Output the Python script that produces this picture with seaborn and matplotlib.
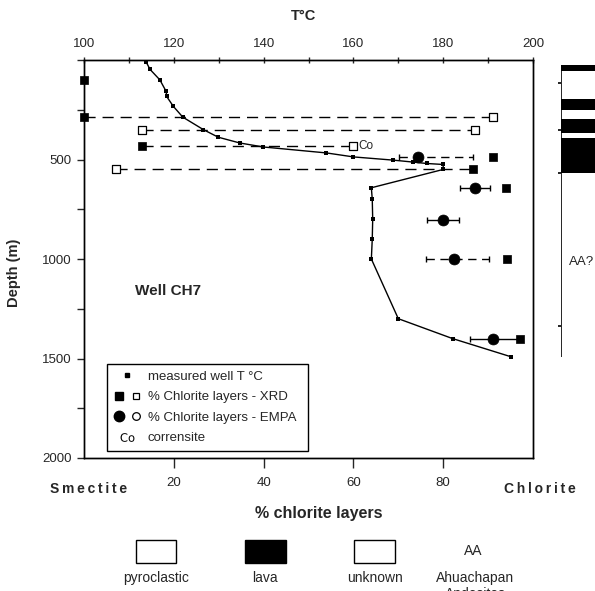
import matplotlib.pyplot as plt
import seaborn as sns
import numpy as np
from matplotlib.lines import Line2D
from matplotlib.legend_handler import HandlerTuple

# measured well temperature profile (T in degC vs depth in m)
temp_c = [113.8, 114.7, 116.9, 118.3, 118.4, 119.9, 122.0, 126.6, 129.9, 134.7, 139.9,
          154.0, 160.0, 168.8, 173.3, 176.3, 180.0, 180.0, 164.0, 164.2, 164.3, 164.2,
          164.0, 170.0, 182.1, 195.2]
temp_depth = [8, 47, 100, 158, 183, 233, 287, 350, 388, 417, 437,
              467, 487, 503, 513, 520, 525, 550, 642, 700, 800, 900,
              1000, 1300, 1400, 1492]

# % chlorite layers - XRD (filled / open squares)
xrd_fill_pct = [0, 0, 13, 91, 86.7, 94, 94.1, 97]
xrd_fill_depth = [100, 285, 433, 488, 550, 642, 1000, 1403]
xrd_open_pct = [91, 13, 87, 60, 7.1]
xrd_open_depth = [285, 353, 353, 433, 550]

# dashed tie lines between paired XRD samples
tie_depth = [285, 353, 433, 550]
tie_from = [0, 13, 13, 7.1]
tie_to = [91, 87, 60, 86.7]

# % chlorite layers - EMPA (mean and range)
empa_pct = [74.3, 87, 79.9, 82.5, 91.2]
empa_depth = [488, 642, 803, 1000, 1403]
empa_lo = [70.2, 83.7, 76.3, 76.1, 86]
empa_hi = [86.7, 90.4, 83.6, 90.1, 97.5]
empa_dashed = [True, False, False, True, False]

# lithology column
lava_top = [25, 197, 297, 392]
lava_bottom = [53, 250, 367, 567]
strip_top, strip_bottom = 25, 1490
strip_ticks = [115, 350, 567, 1335]

# lithology key
key_names = ['pyroclastic', 'lava', 'unknown', 'Ahuachapan\nAndesites']
key_fill = ['white', 'black', 'white', None]

sns.set_style('ticks')
plt.rcParams['font.family'] = ['Liberation Sans', 'DejaVu Sans']

fig = plt.figure(figsize=(5.95, 5.91), dpi=100)
ax = fig.add_axes([84 / 595, 1 - 458 / 591, 449 / 595, 398 / 591])
ax2 = ax.twiny()

# temperature profile on the top axis
sns.lineplot(x=temp_c, y=temp_depth, sort=False, estimator=None, color='black',
             lw=1, marker='s', markersize=2.6, markeredgewidth=0, ax=ax2)

ax.hlines(tie_depth, tie_from, tie_to, colors='black', linestyles=(0, (8, 5)), lw=1, zorder=2)

for x, d, lo, hi, dashed in zip(empa_pct, empa_depth, empa_lo, empa_hi, empa_dashed):
    eb = ax.errorbar(x, d, xerr=[[x - lo], [hi - x]], fmt='none', ecolor='black',
                     elinewidth=1, capsize=2.5, capthick=1, zorder=2)
    if dashed:
        eb[2][0].set_linestyle((0, (6, 4)))

sns.scatterplot(x=xrd_fill_pct, y=xrd_fill_depth, marker='s', s=32, color='black',
                edgecolor='black', linewidth=0.5, ax=ax, zorder=4, clip_on=False)
sns.scatterplot(x=xrd_open_pct, y=xrd_open_depth, marker='s', s=26, color='white',
                edgecolor='black', linewidth=0.9, ax=ax, zorder=4, clip_on=False)
sns.scatterplot(x=empa_pct, y=empa_depth, marker='o', s=62, color='black',
                edgecolor='black', linewidth=0.5, ax=ax, zorder=4)

ax.text(xrd_open_pct[3] + 1.1, xrd_open_depth[3], 'Co', fontsize=8.5, ha='left', va='center')
ax.text(11.4, 1160, 'Well CH7', fontsize=11, fontweight='bold', ha='left', va='center')

ax.set_xlim(0, 100)
ax2.set_xlim(100, 200)
ax.set_ylim(2000, 0)

ax.set_xticks([20, 40, 60, 80])
ax.set_yticks([0, 500, 1000, 1500, 2000])
ax.set_yticklabels(['', '500', '1000', '1500', '2000'])
ax.set_yticks([250, 750, 1250, 1750], minor=True)
ax.tick_params(axis='x', direction='out', length=7, width=1, pad=7, labelsize=9.5, top=False)
ax.tick_params(axis='y', which='both', direction='out', length=5, width=1, pad=4,
               labelsize=9.5, right=False)
ax2.set_xticks(np.arange(100, 201, 20))
ax2.set_xticks(np.arange(110, 200, 20), minor=True)
ax2.tick_params(axis='x', which='both', direction='inout', length=5, width=1, pad=5, labelsize=9.5)
for a in (ax, ax2):
    for sp in a.spines.values():
        sp.set_visible(True)
        sp.set_linewidth(1)
        sp.set_color('black')

ax2.set_xlabel('T°C', fontsize=10.5, fontweight='bold', labelpad=8)
ax2.xaxis.set_label_coords(0.49, 1.0 + 40 / 398)
ax2.set_ylabel('')
ax.set_ylabel('Depth (m)', fontsize=10.5, fontweight='bold')
ax.yaxis.set_label_coords(-0.14, 0.465)
ax.set_xlabel('% chlorite layers', fontsize=11.5, fontweight='bold')
ax.xaxis.set_label_coords(0.523, -0.12)
ax.text(0.011, -0.079, '\u2009'.join('Smectite'), transform=ax.transAxes, fontsize=10,
        fontweight='bold', ha='center', va='center')
ax.text(1.016, -0.079, '\u2009'.join('Chlorite'), transform=ax.transAxes, fontsize=10,
        fontweight='bold', ha='center', va='center')

handles = [
    Line2D([], [], marker='s', color='black', ls='none', markersize=2.6),
    (Line2D([], [], marker='s', color='black', ls='none', markersize=5.5),
     Line2D([], [], marker='s', mfc='white', mec='black', ls='none', markersize=5, mew=0.9)),
    (Line2D([], [], marker='o', color='black', ls='none', markersize=7.5),
     Line2D([], [], marker='o', mfc='white', mec='black', ls='none', markersize=5.5, mew=0.9)),
    Line2D([], [], marker=r'$\mathrm{Co}$', color='black', ls='none', markersize=10, mew=0),
]
labels = ['measured well T °C', '% Chlorite layers - XRD', '% Chlorite layers - EMPA', 'corrensite']
leg = ax.legend(handles, labels, loc='lower left', bbox_to_anchor=(0.051, 0.018, 0.448, 0.228),
                mode='expand', borderaxespad=0, fontsize=9.5, frameon=True, fancybox=False,
                edgecolor='black', framealpha=1, handlelength=2.1, handletextpad=0.5,
                labelspacing=0.62, borderpad=0.5,
                handler_map={tuple: HandlerTuple(ndivide=None, pad=0.4)})
leg.get_frame().set_linewidth(1)

# lithology column on the right
sax = fig.add_axes([561 / 595, 1 - 458 / 591, 0.1, 398 / 591])
sax.set_xlim(0, 1)
sax.set_ylim(2000, 0)
sax.axis('off')
sax.vlines(0, strip_top, strip_bottom, colors='black', lw=1.2)
sax.hlines(strip_ticks, -0.05, 0, colors='black', lw=1.2, clip_on=False)
for t, b in zip(lava_top, lava_bottom):
    sax.fill_between([0, 1], t, b, color='black', lw=0)
sax.text(0.14, 1015, 'AA?', fontsize=9.5, ha='left', va='center')

# lithology key at the bottom
kax = fig.add_axes([101.35 / 595, 0, 437.2 / 595, 61 / 591])
kax.set_xlim(-0.5, 3.5)
kax.set_ylim(0, 1)
kax.axis('off')
for i, (name, fill) in enumerate(zip(key_names, key_fill)):
    if fill is not None:
        kax.bar(i, 0.374, bottom=0.454, width=0.375, color=fill, edgecolor='black', lw=1)
    else:
        kax.text(i - 0.1, 0.66, 'AA', fontsize=10, ha='center', va='center')
    kax.text(i - (0.08 if fill is None else 0), 0.32, name, fontsize=10, ha='center',
             va='top', linespacing=1.1)

fig.savefig('out.png', dpi=100)
